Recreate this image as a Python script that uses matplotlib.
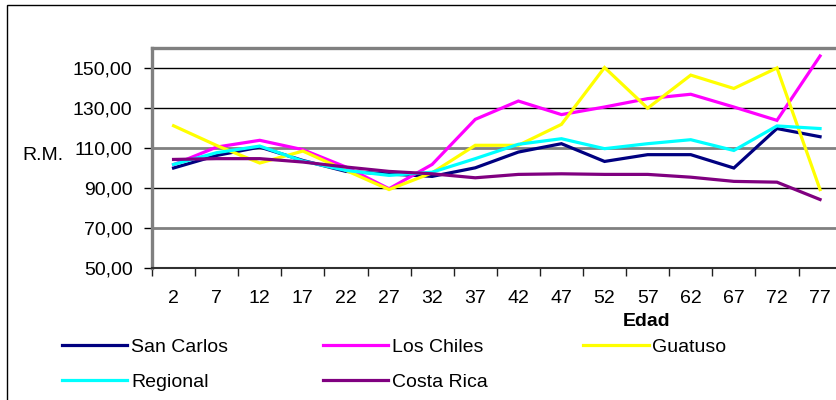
import matplotlib
matplotlib.use("Agg")
import matplotlib.pyplot as plt
from matplotlib.patches import Rectangle
from matplotlib.ticker import FixedLocator, FuncFormatter

# Age groups (years)
ages = [2, 7, 12, 17, 22, 27, 32, 37, 42, 47, 52, 57, 62, 67, 72, 77]

# R.M. by age group for each area
san_carlos = [100.0, 106.3, 110.5, 103.8, 98.3, 97.0, 95.8, 100.1,
              108.0, 112.2, 103.3, 106.7, 106.7, 100.0, 119.8, 115.7]
los_chiles = [101.7, 110.5, 113.9, 109.2, 100.5, 89.6, 101.8, 124.4,
              133.6, 126.8, 130.6, 134.8, 137.0, 130.6, 123.9, 156.2]
guatuso = [121.2, 111.3, 102.5, 108.5, 98.8, 89.2, 97.6, 111.4,
           111.4, 121.9, 150.4, 130.0, 146.6, 139.9, 150.2, 89.2]
regional = [101.8, 107.7, 111.0, 103.5, 98.8, 96.3, 97.9, 104.7,
            111.9, 114.7, 109.7, 112.2, 114.2, 108.8, 121.1, 119.8]
costa_rica = [104.3, 104.7, 104.7, 103.0, 100.5, 98.3, 97.1, 95.1,
              96.8, 97.1, 96.8, 96.8, 95.4, 93.3, 92.9, 84.2]

series_names = ["San Carlos", "Los Chiles", "Guatuso", "Regional", "Costa Rica"]
series_values = [san_carlos, los_chiles, guatuso, regional, costa_rica]
series_colors = ["#000080", "#FF00FF", "#FFFF00", "#00FFFF", "#800080"]

y_ticks = [50, 70, 90, 110, 130, 150]

plt.rcParams["font.family"] = ["Liberation Sans", "DejaVu Sans"]
FS = 14

W, H = 837, 400
fig = plt.figure(figsize=(W / 100, H / 100), dpi=100)

# outer chart frame
fig.patches.append(Rectangle((7 / W, -0.05), 1.1, (H - 5) / H + 0.05,
                             transform=fig.transFigure, fill=False,
                             edgecolor="black", linewidth=1.0))

left, right, top, bottom = 152, 841.6, 48.4, 267.7
ax = fig.add_axes([left / W, (H - bottom) / H, (right - left) / W, (bottom - top) / H])

x = list(range(len(ages)))
lines = []
for name, vals, col in zip(series_names, series_values, series_colors):
    ln, = ax.plot(x, vals, color=col, lw=2.3, label=name, solid_joinstyle="miter")
    lines.append(ln)

ax.set_xlim(-0.5, len(ages) - 0.5)
ax.set_ylim(50, 160)

# y axis
ax.set_yticks(y_ticks)
ax.yaxis.set_major_formatter(FuncFormatter(lambda v, p: f"{v:.2f}".replace(".", ",")))
ax.tick_params(axis="y", direction="out", length=6, width=1, color="black",
               labelsize=FS, pad=8)
ax.grid(axis="y", color="black", lw=1.0)
for v, gl in zip(y_ticks, ax.get_ygridlines()):
    if v in (70, 110):
        gl.set_color("#808080")
        gl.set_linewidth(2.0)
    if v == 50:
        gl.set_visible(False)
ax.set_axisbelow(True)

# x axis: category labels with ticks between categories
ax.set_xticks(x)
ax.set_xticklabels([str(a) for a in ages])
ax.xaxis.set_minor_locator(FixedLocator([i - 0.5 for i in range(len(ages) + 1)]))
ax.tick_params(axis="x", which="major", length=0, labelsize=FS, pad=16)
ax.tick_params(axis="x", which="minor", direction="out", length=6, width=1, color="#202020")

for side in ("top", "left"):
    ax.spines[side].set_color("#808080")
    ax.spines[side].set_linewidth(2.4)
ax.spines["bottom"].set_color("#303030")
ax.spines["bottom"].set_linewidth(1.5)
ax.spines["right"].set_visible(False)

fig.text(22 / W, (H - 156) / H, "R.M.", fontsize=FS, va="center", ha="left")
fig.text(647 / W, (H - 321) / H, "Edad", fontsize=FS, fontweight="bold",
         va="center", ha="center")

order = [0, 3, 1, 4, 2]
fig.legend([lines[i] for i in order], [series_names[i] for i in order],
           loc="upper left", bbox_to_anchor=(62 / W, (H - 338) / H),
           ncol=3, frameon=False, fontsize=FS, handlelength=3.35,
           handletextpad=0.2, columnspacing=4.9, labelspacing=0.92,
           borderpad=0, borderaxespad=0)

fig.savefig("out.png", dpi=100)
